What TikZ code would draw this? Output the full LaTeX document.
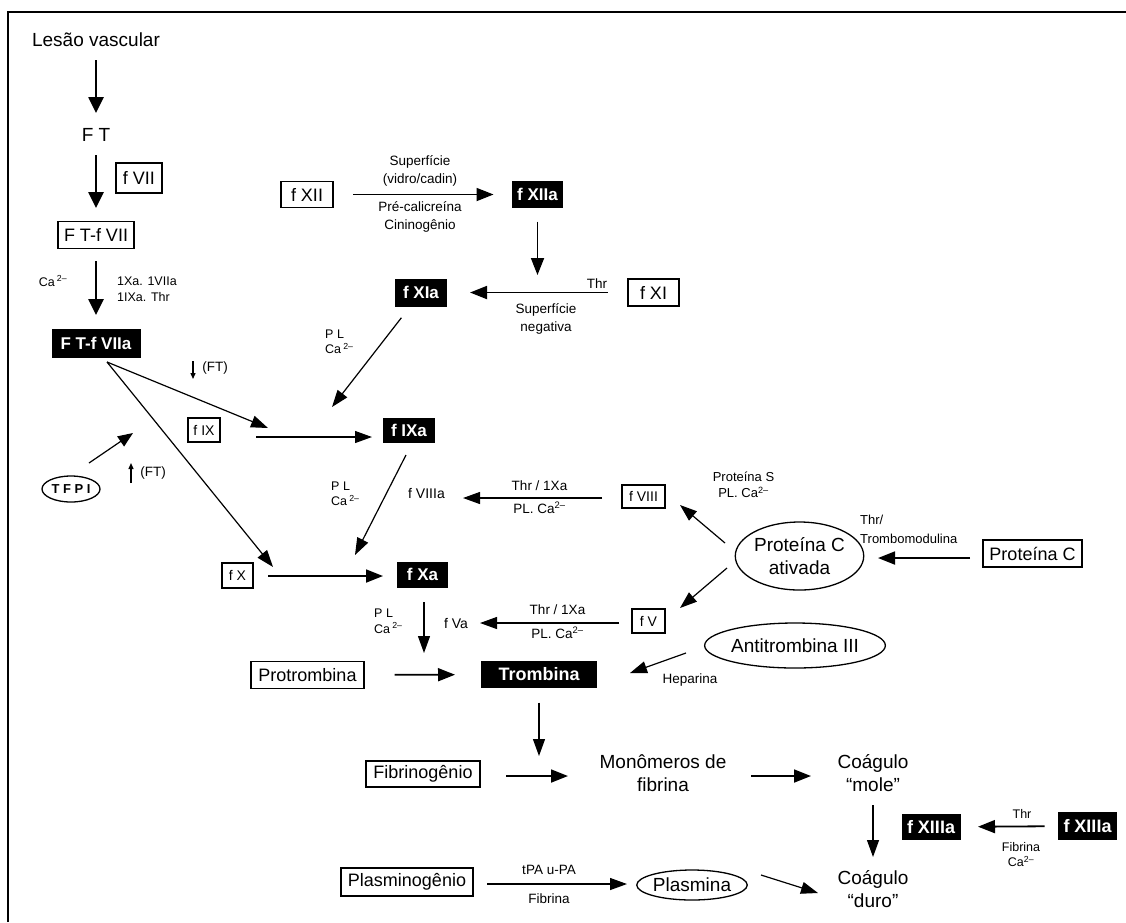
\documentclass[tikz,border=0pt]{standalone}
\usepackage{fontspec}
\setmainfont{Liberation Sans}
\usetikzlibrary{arrows.meta,shapes.geometric}
\begin{document}
\begin{tikzpicture}[x=1pt,y=-1pt,
  box/.style={draw,line width=1.3pt,inner sep=0pt,font=\fontsize{18}{20}\selectfont},
  sbox/.style={draw,line width=1.3pt,inner sep=0pt,font=\fontsize{14}{16}\selectfont},
  bbox/.style={fill=black,inner sep=0pt,text=white,font=\fontsize{17}{20}\selectfont\bfseries},
  big/.style={inner sep=0pt,align=center,font=\fontsize{19}{22.5}\selectfont},
  lbl/.style={inner sep=0pt,align=center,font=\fontsize{13.5}{18}\selectfont},
  slbl/.style={inner sep=0pt,align=left,font=\fontsize{12.5}{15.5}\selectfont},
  oval/.style={draw,ellipse,line width=1.3pt,inner sep=0pt,align=center,font=\fontsize{19}{23}\selectfont},
  arT/.style={line width=2.6pt,-{Triangle[length=16pt,width=15pt]}},
  arM/.style={line width=1.8pt,-{Triangle[length=17pt,width=13pt]}},
  arS/.style={line width=1.2pt,-{Triangle[length=17pt,width=12pt]}},
  tinyar/.style={line width=1.3pt,-{Triangle[length=6pt,width=5pt]}},
]
\useasboundingbox (0,0) rectangle (1126,922);
\draw[line width=2pt] (8,922) -- (8,12) -- (1126,12);

% ---------- extrinsic column ----------
\node[big] (les) at (96,40) {Lesão vascular};
\node[big] (ft) at (96,135) {F T};
\node[box,minimum width=46,minimum height=30] (f7) at (139,178) {f VII};
\node[box,minimum width=76,minimum height=27] (ftf7) at (96,235) {F T-f VII};
\node[bbox,minimum width=89,minimum height=29] (ftf7a) at (96,343) {F T-f VIIa};
\draw[arT,shorten <=20pt,shorten >=22pt] (les.center) -- (ft.center);
\draw[arT,shorten <=20pt,shorten >=27pt] (ft.center) -- (ftf7.center);
\draw[arT,shorten <=26pt,shorten >=28pt] (ftf7.center) -- (ftf7a.center);
\node[slbl] (ca1) at (53,281) {Ca\,\textsuperscript{2–}};
\node[slbl,anchor=west] (r1) at (117,289.5) {1Xa. 1VIIa\\1IXa. Thr};

% ---------- contact ----------
\node[box,minimum width=52,minimum height=26] (f12) at (307,194.5) {f XII};
\node[bbox,minimum width=51,minimum height=27] (f12a) at (537.5,194.5) {f XIIa};
\draw[arM,shorten <=46pt,shorten >=44pt] (f12.center) -- (f12a.center);
\node[lbl] (l12a) at (420,171) {Superfície\\(vidro/cadin)};
\node[lbl] (l12b) at (420,216.5) {Pré-calicreína\\Cininogênio};
\coordinate (e12) at (537.5,275);
\draw[arM,shorten <=27pt] (f12a.center) -- (e12);

\node[box,minimum width=51,minimum height=27] (f11) at (653.5,292.5) {f XI};
\node[bbox,minimum width=52,minimum height=28] (f11a) at (421,292.5) {f XIa};
\draw[arM,shorten <=46pt,shorten >=49pt] (f11.center) -- (f11a.center);
\node[lbl] (thr11) at (597,284) {Thr};
\node[lbl] (l11) at (546,319) {Superfície\\negativa};
\coordinate (e11) at (332,407);
\draw[arS,shorten <=32pt] (f11a.center) -- (e11);
\node[slbl,anchor=west] (pl1) at (325,342) {P L\\Ca\,\textsuperscript{2–}};

% ---------- FT-fVIIa branches ----------
\coordinate (d0) at (107,362);
\coordinate (d9) at (268,428);
\coordinate (d10) at (273,567);
\draw[arS] (d0) -- (d9);
\draw[arS] (d0) -- (d10);
\coordinate (dn1) at (193,361);
\coordinate (dn2) at (193,379);
\draw[tinyar] (dn1) -- (dn2);
\node[slbl,font=\fontsize{13.5}{15}\selectfont] (ftdn) at (215,368) {(FT)};
\node[oval,minimum width=58,minimum height=26,font=\fontsize{13}{15}\selectfont\bfseries] (tfpi) at (71,489) {T F P I};
\coordinate (t1) at (89,463);
\coordinate (t2) at (133,433);
\draw[arS,-{Triangle[length=15pt,width=12pt]}] (t1) -- (t2);
\coordinate (up1) at (131,483);
\coordinate (up2) at (131,463);
\draw[tinyar] (up1) -- (up2);
\node[slbl,font=\fontsize{13.5}{15}\selectfont] (ftup) at (153,473) {(FT)};

% ---------- IX / X ----------
\node[sbox,minimum width=32,minimum height=24] (f9) at (204,430) {f IX};
\node[bbox,minimum width=52,minimum height=25] (f9a) at (409,430.5) {f IXa};
\coordinate (a9s) at (256,437);
\coordinate (a9e) at (372,437);
\draw[arS] (a9s) -- (a9e);
\coordinate (b9s) at (406,455);
\coordinate (b9e) at (355,555);
\draw[arS] (b9s) -- (b9e);
\node[slbl,anchor=west] (pl2) at (331,493.5) {P L\\Ca\,\textsuperscript{2–}};

\node[sbox,minimum width=31,minimum height=25] (f10) at (237.5,575.5) {f X};
\node[bbox,minimum width=51,minimum height=26] (f10a) at (422.5,574.5) {f Xa};
\coordinate (a10s) at (268,576);
\coordinate (a10e) at (383,576);
\draw[arM] (a10s) -- (a10e);

% ---------- VIII / V ----------
\node[lbl,font=\fontsize{14}{15}\selectfont] (f8a) at (426.5,493.5) {f VIIIa};
\node[sbox,minimum width=43,minimum height=23] (f8) at (643.5,496.5) {f VIII};
\coordinate (a8s) at (602,498);
\coordinate (a8e) at (463,498);
\draw[arS] (a8s) -- (a8e);
\node[lbl,font=\fontsize{13.5}{15}\selectfont] (l8a) at (539.5,486) {Thr / 1Xa};
\node[lbl,font=\fontsize{13.5}{15}\selectfont] (l8b) at (539.5,508) {PL. Ca\textsuperscript{2–}};

\node[lbl,font=\fontsize{14}{15}\selectfont] (f5a) at (456,623) {f Va};
\node[sbox,minimum width=33,minimum height=24] (f5) at (648.5,621) {f V};
\coordinate (a5s) at (619,623);
\coordinate (a5e) at (480,623);
\draw[arS] (a5s) -- (a5e);
\node[lbl,font=\fontsize{13.5}{15}\selectfont] (l5a) at (557.5,610) {Thr / 1Xa};
\node[lbl,font=\fontsize{13.5}{15}\selectfont] (l5b) at (557.5,633) {PL. Ca\textsuperscript{2–}};

\coordinate (x1) at (424,602);
\coordinate (x2) at (424,653);
\draw[arS] (x1) -- (x2);
\node[slbl,anchor=west] (pl3) at (374,621) {P L\\Ca\,\textsuperscript{2–}};

% ---------- protein C ----------
\node[oval,minimum width=125,minimum height=68] (pca) at (799.5,556) {Proteína C\\ativada};
\node[box,minimum width=99,minimum height=27] (pc) at (1032.5,553.5) {Proteína C};
\coordinate (pcs) at (970,558);
\coordinate (pce) at (878,558);
\draw[arM] (pcs) -- (pce);
\node[lbl,align=left,anchor=west,font=\fontsize{13}{19}\selectfont] (tm) at (860,529.5) {Thr/\\Trombomodulina};
\node[lbl,font=\fontsize{13}{16}\selectfont] (ps) at (743.5,485) {Proteína S\\PL. Ca\textsuperscript{2–}};
\coordinate (p8s) at (725,543);
\coordinate (p8e) at (680,505);
\draw[arS] (p8s) -- (p8e);
\coordinate (p5s) at (727,568);
\coordinate (p5e) at (680,608);
\draw[arS] (p5s) -- (p5e);

\node[oval,minimum width=150,minimum height=45] (at3) at (795,645.5) {Antitrombina III};
\coordinate (hs) at (686,653);
\coordinate (he) at (630,673);
\draw[arS] (hs) -- (he);
\node[lbl] (hep) at (690,680) {Heparina};

% ---------- thrombin ----------
\node[box,minimum width=113,minimum height=27] (prot) at (307.5,675) {Protrombina};
\node[bbox,minimum width=116,minimum height=27,font=\fontsize{18}{20}\selectfont\bfseries] (trom) at (539,674.5) {Trombina};
\draw[arM,shorten <=87pt,shorten >=84pt] (prot.center) -- (trom.center);
\coordinate (tr1) at (539,756);
\draw[arS,shorten <=28pt] (trom.center) -- (tr1);

% ---------- fibrin ----------
\node[box,minimum width=114,minimum height=26] (fib) at (423,774) {Fibrinogênio};
\node[big] (mon) at (663,773) {Monômeros de\\fibrina};
\node[big] (mole) at (873,773) {Coágulo\\“mole”};
\coordinate (fm1) at (506,776);
\coordinate (fm2) at (568,776);
\draw[arM] (fm1) -- (fm2);
\coordinate (mm1) at (751,776);
\coordinate (mm2) at (811,776);
\draw[arM] (mm1) -- (mm2);
\node[big] (duro) at (873,889) {Coágulo\\“duro”};
\draw[arS,shorten <=32pt,shorten >=32pt] (mole.center) -- (duro.center);

\node[bbox,minimum width=59,minimum height=26,font=\fontsize{18}{20}\selectfont\bfseries] (f13a) at (931,827) {f XIIIa};
\node[bbox,minimum width=59,minimum height=28,font=\fontsize{18}{20}\selectfont\bfseries] (f13) at (1087.5,826) {f XIIIa};
\draw[arM,shorten <=43pt,shorten >=47pt] (f13.center) -- (f13a.center);
\node[lbl,font=\fontsize{12.5}{15}\selectfont] (thr13) at (1022,814) {Thr};
\node[lbl,font=\fontsize{12.5}{15}\selectfont] (l13) at (1021,854.5) {Fibrina\\Ca\textsuperscript{2–}};

\node[box,minimum width=132,minimum height=28] (plg) at (407,882) {Plasminogênio};
\node[oval,minimum width=102,minimum height=30] (pls) at (692,885) {Plasmina};
\coordinate (pg1) at (487,884);
\coordinate (pg2) at (627,884);
\draw[arS] (pg1) -- (pg2);
\node[lbl] (tpa) at (549,870) {tPA u-PA};
\node[lbl] (fbr) at (549,899) {Fibrina};
\coordinate (ps1) at (761,875);
\coordinate (ps2) at (818,893);
\draw[arS] (ps1) -- (ps2);
\end{tikzpicture}
\end{document}
